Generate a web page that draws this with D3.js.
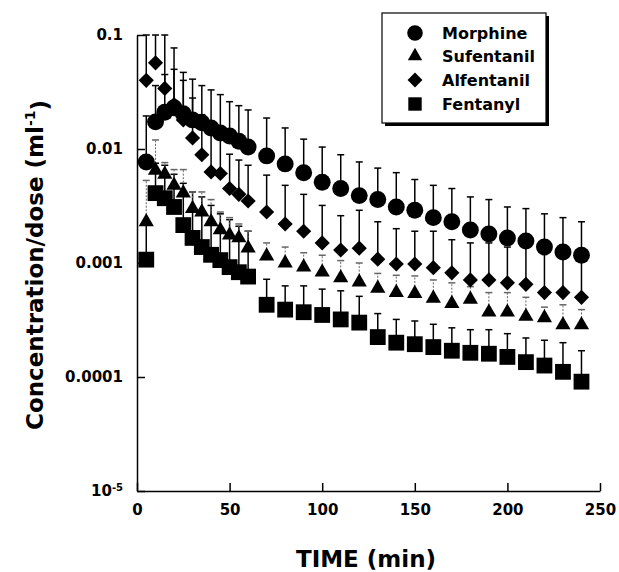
<!DOCTYPE html>
<html>
<head>
<meta charset="utf-8">
<script src="https://cdn.jsdelivr.net/npm/d3@7"></script>
<style>
  body { margin: 0; background: #fff; }
  text { font-family: "DejaVu Sans", sans-serif; font-weight: bold; fill: #000; }
</style>
</head>
<body>
<div id="chart"></div>
<script>
// donnees (temps en min, concentration/dose en ml-1)
const times = [5,10,15,20,25,30,35,40,45,50,55,60,70,80,90,100,110,120,130,140,150,160,170,180,190,200,210,220,230,240];

const morphine = [0.0077,0.0173,0.021,0.023,0.0204,0.018,0.017,0.0153,0.0138,0.013,0.0117,0.0104,0.0087,0.0074,0.0062,0.0051,0.0045,0.0039,0.0036,0.0031,0.0029,0.0025,0.0023,0.00195,0.0018,0.00166,0.00156,0.00138,0.00125,0.00117];
const morphineTop = [0.0195,0.036,0.045,0.05,0.047,0.041,0.036,0.033,0.030,0.026,0.024,0.022,0.0187,0.0153,0.0122,0.0104,0.0089,0.0077,0.0068,0.0062,0.0054,0.0048,0.0045,0.0038,0.0036,0.0031,0.0030,0.0027,0.0025,0.0023];

const sufentanil = [0.0023,0.0065,0.0060,0.0048,0.0041,0.0030,0.0028,0.0023,0.00195,0.00176,0.00166,0.00135,0.00115,0.00100,0.00092,0.00083,0.00074,0.00068,0.00060,0.00055,0.00054,0.00049,0.00044,0.00048,0.00037,0.00037,0.00034,0.00033,0.000286,0.000286];
const sufentanilTop = [0.0053,0.012,0.0076,0.0066,0.0066,0.0042,0.0042,0.0036,0.0028,0.0025,0.0022,0.0019,0.0015,0.00138,0.00123,0.00117,0.00105,0.0010,0.00081,0.00078,0.00077,0.00071,0.00067,0.00062,0.00055,0.00055,0.0005,0.00041,0.00043,0.00039];

const alfentanil = [0.040,0.057,0.034,0.0245,0.018,0.0125,0.0089,0.0063,0.0061,0.0045,0.0040,0.0035,0.0028,0.0022,0.0019,0.0015,0.0013,0.00135,0.00108,0.00098,0.00098,0.00091,0.00082,0.00071,0.00071,0.00067,0.00065,0.00055,0.00055,0.00050];
const alfentanilTop = [0.1,0.1,0.1,0.077,0.04,0.028,0.02,0.014,0.013,0.009,0.008,0.0072,0.0059,0.0048,0.0040,0.0032,0.0026,0.0029,0.0023,0.0020,0.0019,0.0019,0.0016,0.0015,0.0015,0.00138,0.0015,0.0013,0.0012,0.0011];

const fentanyl = [0.00107,0.0041,0.0037,0.0031,0.00215,0.00166,0.00138,0.00118,0.00106,0.00092,0.00083,0.00076,0.00043,0.00039,0.00037,0.00035,0.00032,0.0003,0.000224,0.0002,0.000194,0.000183,0.00017,0.000163,0.00016,0.00015,0.000135,0.000126,0.000111,0.000091];
const fentanylTop = [0.0023,0.0075,0.0072,0.006,0.005,0.0042,0.0038,0.0032,0.0027,0.0024,0.0021,0.0019,0.00072,0.00063,0.00063,0.00059,0.00057,0.00051,0.00036,0.00032,0.00031,0.00029,0.00027,0.00026,0.00026,0.00024,0.00022,0.00021,0.0002,0.00017];

const seriesNames = ["Morphine","Sufentanil","Alfentanil","Fentanyl"];
const xTicks = [0,50,100,150,200,250];
const yTicks = [1e-5,1e-4,1e-3,1e-2,1e-1];
const yTickLabels = ["10","0.0001","0.001","0.01","0.1"];

const W = 619, H = 572;
const svg = d3.select("#chart").append("svg")
    .attr("width", W).attr("height", H);

// echelles
const x = d3.scaleLinear().domain([0, 250]).range([137, 600]);
const y = d3.scaleLog().domain([1e-5, 0.1]).range([491, 35]);

// les series, dans l'ordre de dessin
const series = [
  {name: "Fentanyl", vals: fentanyl, tops: fentanylTop, sym: d3.symbolSquare, size: 250, rot: 0, dash: null, col: "#000"},
  {name: "Sufentanil", vals: sufentanil, tops: sufentanilTop, sym: d3.symbolTriangle, size: 100, rot: 0, dash: "2,1.5", col: "#666"},
  {name: "Alfentanil", vals: alfentanil, tops: alfentanilTop, sym: d3.symbolSquare, size: 115, rot: 45, dash: null, col: "#000"},
  {name: "Morphine", vals: morphine, tops: morphineTop, sym: d3.symbolCircle, size: 225, rot: 0, dash: null, col: "#000"}
];

// barres d'erreur (vers le haut seulement)
series.forEach(function(s) {
  const g = svg.append("g");
  const pts = times.map(function(t, i) { return {t: t, v: s.vals[i], top: Math.min(s.tops[i], 0.1)}; });
  g.selectAll("line.bar").data(pts).join("line")
    .attr("x1", d => x(d.t)).attr("x2", d => x(d.t))
    .attr("y1", d => y(d.v)).attr("y2", d => y(d.top))
    .attr("stroke", s.col).attr("stroke-width", s.dash ? 1 : 1.5)
    .attr("stroke-dasharray", s.dash);
  g.selectAll("line.cap").data(pts).join("line")
    .attr("x1", d => x(d.t) - 3.5).attr("x2", d => x(d.t) + 3.5)
    .attr("y1", d => y(d.top)).attr("y2", d => y(d.top))
    .attr("stroke", s.col).attr("stroke-width", 1.5);
});

// marqueurs
series.forEach(function(s) {
  svg.append("g").selectAll("path")
    .data(times.map((t, i) => ({t: t, v: s.vals[i]})))
    .join("path")
    .attr("d", d3.symbol().type(s.sym).size(s.size))
    .attr("transform", d => `translate(${x(d.t)},${y(d.v)}) rotate(${s.rot})`)
    .attr("fill", "#000");
});

// axe X
const xAxis = svg.append("g")
    .attr("transform", "translate(0,491)")
    .call(d3.axisBottom(x).tickValues(xTicks).tickSizeInner(-8).tickSizeOuter(0).tickPadding(13));
xAxis.selectAll("text").style("font-size", "15px").style("font-family", "DejaVu Sans").style("font-weight", "bold");

// axe Y
const yAxis = svg.append("g")
    .attr("transform", "translate(137,0)")
    .call(d3.axisLeft(y).tickValues(yTicks).tickSizeInner(-8).tickSizeOuter(0).tickPadding(14)
      .tickFormat((d, i) => yTickLabels[i]));
yAxis.selectAll("text").style("font-size", "15px").style("font-family", "DejaVu Sans").style("font-weight", "bold");
yAxis.selectAll(".tick text").filter((d, i) => i === 0)
    .append("tspan").attr("dy", "-0.5em").style("font-size", "10px").text("-5");

[xAxis, yAxis].forEach(function(a) {
  a.selectAll("path, line").attr("stroke", "#000").attr("stroke-width", 1.5);
});

// titres des axes
svg.append("text")
    .attr("x", 366).attr("y", 567)
    .attr("text-anchor", "middle")
    .style("font-size", "23px")
    .text("TIME (min)");

const yTitle = svg.append("text")
    .attr("transform", "translate(43,265) rotate(-90)")
    .attr("text-anchor", "middle")
    .style("font-size", "23px")
    .text("Concentration/dose (ml");
yTitle.append("tspan").attr("dy", "-0.55em").style("font-size", "14px").text("-1");
yTitle.append("tspan").attr("dy", "0.55em").text(")");

// legende
const leg = svg.append("g");
leg.append("rect").attr("x", 385).attr("y", 16).attr("width", 164).attr("height", 110).attr("fill", "#000");
leg.append("rect").attr("x", 382).attr("y", 13).attr("width", 164).attr("height", 110)
    .attr("fill", "#fff").attr("stroke", "#000").attr("stroke-width", 1.2);
const legSyms = [
  {sym: d3.symbolCircle, size: 190, rot: 0},
  {sym: d3.symbolTriangle, size: 90, rot: 0},
  {sym: d3.symbolSquare, size: 110, rot: 45},
  {sym: d3.symbolSquare, size: 180, rot: 0}
];
const legY = [33, 56, 80, 104];
seriesNames.forEach(function(n, i) {
  leg.append("path")
    .attr("d", d3.symbol().type(legSyms[i].sym).size(legSyms[i].size))
    .attr("transform", `translate(415,${legY[i]}) rotate(${legSyms[i].rot})`)
    .attr("fill", "#000");
  leg.append("text")
    .attr("x", 442).attr("y", legY[i]).attr("dy", "0.36em")
    .style("font-size", "16px")
    .text(n);
});
</script>
</body>
</html>
